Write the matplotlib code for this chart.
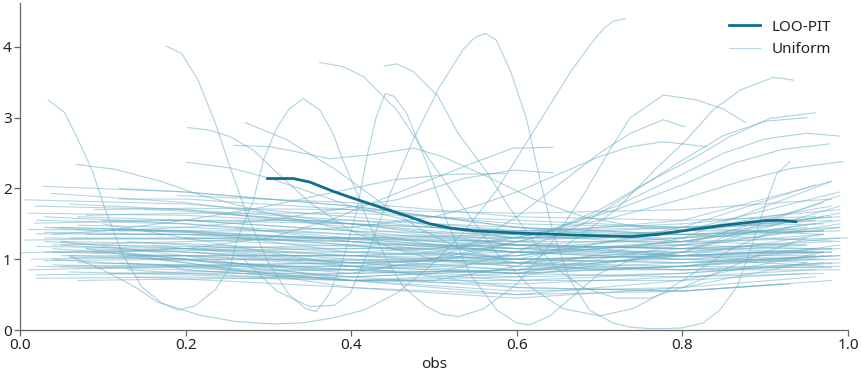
import matplotlib
matplotlib.use("Agg")
import matplotlib.pyplot as plt

plt.rcParams['font.family'] = ['Noto Sans', 'DejaVu Sans']

# ---------------- data ----------------
loo_x = [0.299, 0.33, 0.35, 0.378, 0.40, 0.439, 0.47, 0.495, 0.52, 0.55, 0.601,
         0.65, 0.70, 0.738, 0.77, 0.80, 0.85, 0.899, 0.92, 0.937]
loo_y = [2.14, 2.14, 2.09, 1.96, 1.87, 1.72, 1.60, 1.50, 1.44, 1.40, 1.37,
         1.35, 1.33, 1.32, 1.35, 1.40, 1.48, 1.545, 1.55, 1.53]

# prominent uniform curves (x lists / y lists)
prom_x = [
    [0.034, 0.054, 0.07, 0.087, 0.103, 0.123, 0.147, 0.171, 0.191, 0.211, 0.236, 0.254, 0.262,
     0.282, 0.294, 0.31, 0.325, 0.342, 0.362, 0.378, 0.39, 0.407, 0.423, 0.443, 0.463, 0.491,
     0.51, 0.53, 0.56, 0.60, 0.64, 0.68, 0.71, 0.737, 0.777, 0.817, 0.85, 0.876],
    [0.177, 0.195, 0.215, 0.236, 0.254, 0.275, 0.30, 0.325, 0.345, 0.358, 0.374, 0.39, 0.407,
     0.42, 0.43, 0.441, 0.452, 0.467, 0.491, 0.515, 0.543, 0.576, 0.60, 0.615, 0.64, 0.67, 0.70, 0.74, 0.78],
    [0.06, 0.10, 0.14, 0.165, 0.217, 0.26, 0.306, 0.34, 0.378, 0.415, 0.455, 0.495, 0.535,
     0.576, 0.616, 0.664, 0.69, 0.705, 0.716, 0.731],
    [0.27, 0.31, 0.35, 0.38, 0.399, 0.423, 0.447, 0.475, 0.507, 0.535, 0.549, 0.562, 0.575, 0.592, 0.612,
     0.628, 0.644, 0.664, 0.688, 0.716, 0.737, 0.76, 0.78, 0.80, 0.825, 0.845, 0.866, 0.882,
     0.898, 0.914, 0.93],
    [0.362, 0.39, 0.415, 0.455, 0.495, 0.535, 0.576, 0.616, 0.656, 0.70, 0.74, 0.78, 0.82, 0.86, 0.90, 0.93],
    [0.44, 0.455, 0.475, 0.505, 0.529, 0.55, 0.562, 0.59, 0.62, 0.65, 0.68, 0.72, 0.76, 0.80, 0.85, 0.90, 0.95],
    [0.272, 0.322, 0.382, 0.43, 0.48, 0.53, 0.60, 0.70, 0.80, 0.90, 0.97],
    [0.203, 0.23, 0.254, 0.282, 0.305, 0.35, 0.40, 0.45, 0.50, 0.60, 0.70, 0.80, 0.90, 0.96],
    [0.201, 0.254, 0.30, 0.35, 0.40, 0.50, 0.60, 0.70, 0.80, 0.90, 0.96],
    [0.068, 0.115, 0.17, 0.22, 0.30, 0.40, 0.50, 0.60, 0.70, 0.80, 0.90, 0.97],
    [0.258, 0.302, 0.35, 0.374, 0.42, 0.475, 0.51, 0.564, 0.62, 0.68, 0.75, 0.82, 0.90, 0.95],
    [0.03, 0.10, 0.20, 0.30, 0.374, 0.435, 0.495, 0.556, 0.596, 0.644],
    [0.03, 0.10, 0.20, 0.30, 0.38, 0.455, 0.535, 0.596, 0.644],
    [0.04, 0.10, 0.20, 0.30, 0.38, 0.45, 0.52, 0.586],
    [0.12, 0.20, 0.30, 0.40, 0.50, 0.60, 0.66, 0.72, 0.769, 0.805, 0.837, 0.87, 0.91, 0.934],
    [0.04, 0.10, 0.20, 0.30, 0.40, 0.50, 0.62, 0.70, 0.76, 0.817, 0.857, 0.906, 0.96],
    [0.12, 0.20, 0.30, 0.40, 0.50, 0.60, 0.68, 0.74, 0.80, 0.85, 0.90, 0.95],
    [0.04, 0.10, 0.20, 0.30, 0.40, 0.50, 0.62, 0.72, 0.80, 0.85, 0.90, 0.95, 0.99],
    [0.05, 0.12, 0.20, 0.30, 0.40, 0.50, 0.62, 0.72, 0.80, 0.86, 0.92, 0.978],
    [0.03, 0.10, 0.20, 0.30, 0.40, 0.50, 0.62, 0.72, 0.80, 0.87, 0.93, 0.994],
    [0.13, 0.20, 0.30, 0.40, 0.50, 0.55, 0.60, 0.65, 0.70, 0.737, 0.777, 0.803],
    [0.12, 0.20, 0.30, 0.40, 0.50, 0.55, 0.60, 0.65, 0.70, 0.737, 0.777, 0.829],
]
prom_y = [
    [3.25, 3.07, 2.69, 2.26, 1.70, 1.09, 0.61, 0.38, 0.28, 0.34, 0.57, 0.90, 1.27,
     1.84, 2.40, 2.85, 3.12, 3.27, 3.11, 2.78, 2.40, 1.93, 1.46, 0.99, 0.61, 0.33,
     0.22, 0.19, 0.30, 0.65, 1.20, 1.90, 2.50, 3.00, 3.32, 3.25, 3.12, 2.93],
    [4.01, 3.91, 3.53, 2.92, 2.29, 1.60, 0.95, 0.50, 0.30, 0.26, 0.52, 0.99, 1.70,
     2.50, 3.00, 3.34, 3.30, 3.06, 2.36, 1.55, 0.80, 0.28, 0.10, 0.07, 0.20, 0.50, 0.80, 1.00, 1.10],
    [1.05, 0.85, 0.60, 0.40, 0.21, 0.12, 0.085, 0.10, 0.17, 0.28, 0.52, 0.90, 1.37,
     1.98, 2.73, 3.63, 4.05, 4.26, 4.36, 4.40],
    [1.00, 0.55, 0.33, 0.35, 0.52, 1.18, 1.93, 2.69, 3.44, 3.96, 4.13, 4.19, 4.10, 3.67, 2.97,
     2.12, 1.37, 0.71, 0.28, 0.10, 0.04, 0.02, 0.02, 0.03, 0.10, 0.28, 0.61, 1.13,
     1.70, 2.21, 2.38],
    [3.78, 3.72, 3.58, 3.11, 2.40, 1.74, 1.08, 0.61, 0.30, 0.20, 0.30, 0.55, 0.85, 1.15, 1.35, 1.45],
    [3.73, 3.76, 3.65, 3.30, 2.78, 2.45, 2.26, 1.75, 1.25, 0.85, 0.60, 0.45, 0.45, 0.60, 0.85, 1.10, 1.30],
    [2.93, 2.69, 2.26, 1.85, 1.45, 1.15, 0.95, 0.85, 0.90, 1.00, 1.05],
    [2.86, 2.82, 2.73, 2.54, 2.28, 1.80, 1.40, 1.15, 1.00, 0.90, 0.95, 1.05, 1.10, 1.10],
    [2.37, 2.29, 2.15, 1.95, 1.75, 1.45, 1.30, 1.30, 1.40, 1.50, 1.55],
    [2.34, 2.27, 2.10, 1.90, 1.65, 1.40, 1.20, 1.10, 1.05, 1.00, 0.95, 0.90],
    [2.61, 2.59, 2.48, 2.42, 2.47, 2.57, 2.45, 2.17, 1.85, 1.60, 1.45, 1.40, 1.40, 1.40],
    [1.10, 1.10, 1.15, 1.30, 1.55, 1.84, 2.12, 2.40, 2.57, 2.58],
    [1.45, 1.40, 1.45, 1.55, 1.70, 1.84, 2.14, 2.26, 2.22],
    [1.35, 1.40, 1.55, 1.75, 1.95, 2.12, 2.20, 2.21],
    [1.05, 0.95, 0.80, 0.70, 0.70, 0.90, 1.20, 1.70, 2.29, 2.69, 3.11, 3.39, 3.57, 3.53],
    [1.00, 0.95, 0.90, 0.85, 0.85, 0.95, 1.30, 1.70, 2.10, 2.45, 2.73, 2.99, 3.07],
    [1.10, 1.00, 0.85, 0.75, 0.80, 1.10, 1.50, 1.95, 2.40, 2.75, 2.95, 3.00],
    [1.15, 1.10, 1.00, 0.90, 0.90, 1.00, 1.30, 1.75, 2.20, 2.50, 2.70, 2.78, 2.74],
    [1.20, 1.15, 1.10, 1.05, 1.05, 1.10, 1.35, 1.70, 2.05, 2.35, 2.55, 2.63],
    [1.25, 1.20, 1.15, 1.10, 1.10, 1.15, 1.35, 1.60, 1.85, 2.10, 2.28, 2.38],
    [0.85, 0.80, 0.75, 0.80, 1.00, 1.25, 1.60, 2.05, 2.50, 2.78, 2.97, 2.87],
    [1.40, 1.40, 1.40, 1.45, 1.60, 1.75, 1.95, 2.20, 2.45, 2.59, 2.66, 2.59],
]

# background uniform curves: start x, end x and y at start, 0.2, 0.4, 0.6, 0.8, end
bg_x0 = [0.028, 0.038, 0.006, 0.018, 0.010, 0.018, 0.006, 0.002, 0.010, 0.020,
         0.020, 0.014, 0.050, 0.030, 0.060, 0.040, 0.080, 0.050, 0.070, 0.090,
         0.030, 0.060, 0.120, 0.100, 0.150, 0.130, 0.160, 0.180, 0.110, 0.040,
         0.080, 0.020, 0.050, 0.090, 0.070, 0.010, 0.030, 0.060, 0.200, 0.220,
         0.250, 0.140, 0.170, 0.120, 0.190, 0.040, 0.080, 0.020, 0.110, 0.070,
         0.030, 0.150, 0.100, 0.060, 0.240, 0.260, 0.090, 0.050, 0.130, 0.020,
         0.050, 0.080, 0.100, 0.120, 0.060, 0.160, 0.040, 0.020, 0.210, 0.070]
bg_x1 = [0.95, 0.97, 0.99, 0.96, 0.98, 0.99, 1.00, 0.98, 0.97, 0.99,
         0.96, 0.98, 0.95, 0.99, 0.97, 0.99, 0.96, 0.97, 0.98, 0.99,
         0.94, 0.98, 0.97, 0.93, 0.95, 0.99, 0.97, 0.96, 0.99, 0.93,
         0.97, 0.98, 0.99, 0.95, 0.99, 0.97, 0.98, 0.99, 0.95, 0.98,
         0.95, 0.92, 0.99, 0.97, 0.96, 0.99, 0.98, 0.96, 0.99, 0.97,
         0.99, 0.98, 0.97, 0.99, 0.97, 0.99, 0.98, 0.99, 0.96, 0.98,
         0.97, 0.95, 0.98, 0.99, 0.98, 0.96, 0.99, 0.97, 0.99, 0.98]
bg_y = [
    [2.03, 1.95, 1.75, 1.45, 1.25, 1.20], [1.93, 1.80, 1.50, 1.20, 1.05, 1.00],
    [1.84, 1.78, 1.60, 1.40, 1.35, 1.40], [1.75, 1.70, 1.55, 1.35, 1.20, 1.15],
    [1.65, 1.62, 1.50, 1.40, 1.45, 1.55], [1.51, 1.55, 1.55, 1.45, 1.35, 1.25],
    [1.27, 1.30, 1.30, 1.25, 1.25, 1.30], [1.09, 1.15, 1.20, 1.20, 1.15, 1.10],
    [0.85, 0.90, 0.95, 1.00, 1.05, 1.10], [0.78, 0.80, 0.80, 0.85, 0.95, 1.05],
    [0.73, 0.75, 0.70, 0.65, 0.75, 0.85], [1.00, 1.05, 1.05, 1.00, 1.05, 1.15],
    [1.45, 1.40, 1.25, 1.10, 1.10, 1.20], [1.38, 1.35, 1.20, 0.95, 0.85, 0.85],
    [1.30, 1.30, 1.25, 1.15, 1.20, 1.35], [1.20, 1.25, 1.30, 1.35, 1.45, 1.60],
    [1.15, 1.10, 0.95, 0.85, 0.90, 1.00], [1.05, 1.05, 0.95, 0.80, 0.75, 0.80],
    [0.95, 0.92, 0.85, 0.80, 0.90, 1.05], [0.88, 0.90, 0.90, 0.95, 1.10, 1.30],
    [1.60, 1.50, 1.30, 1.10, 1.00, 1.00], [1.78, 1.70, 1.45, 1.20, 1.15, 1.25],
    [1.85, 1.85, 1.70, 1.50, 1.45, 1.50], [1.55, 1.55, 1.40, 1.20, 1.15, 1.20],
    [1.70, 1.68, 1.50, 1.25, 1.05, 0.95], [1.25, 1.20, 1.05, 0.90, 0.85, 0.90],
    [1.00, 0.98, 0.85, 0.75, 0.80, 0.95], [0.90, 0.85, 0.70, 0.55, 0.60, 0.75],
    [1.42, 1.38, 1.20, 1.00, 0.95, 1.05], [0.92, 0.88, 0.75, 0.60, 0.55, 0.65],
    [1.62, 1.65, 1.65, 1.55, 1.45, 1.35], [1.18, 1.15, 1.00, 0.85, 0.85, 0.95],
    [1.25, 1.22, 1.10, 1.00, 1.05, 1.15], [1.10, 1.12, 1.15, 1.20, 1.30, 1.45],
    [1.48, 1.45, 1.35, 1.30, 1.35, 1.45], [1.42, 1.40, 1.28, 1.15, 1.10, 1.10],
    [0.98, 1.00, 1.00, 0.95, 0.90, 0.88], [0.82, 0.78, 0.70, 0.70, 0.80, 0.95],
    [1.30, 1.30, 1.25, 1.10, 1.05, 1.10], [1.15, 1.15, 1.05, 0.95, 1.00, 1.10],
    [0.95, 0.92, 0.85, 0.70, 0.70, 0.80], [0.75, 0.72, 0.60, 0.50, 0.55, 0.65],
    [1.55, 1.55, 1.50, 1.40, 1.50, 1.70], [2.00, 1.95, 1.75, 1.45, 1.35, 1.40],
    [1.90, 1.90, 1.80, 1.60, 1.55, 1.60], [1.10, 1.05, 0.90, 0.80, 0.90, 1.20],
    [1.35, 1.35, 1.30, 1.20, 1.15, 1.15], [1.55, 1.50, 1.35, 1.15, 1.05, 1.05],
    [0.80, 0.82, 0.85, 0.95, 1.15, 1.50], [0.70, 0.72, 0.75, 0.85, 1.05, 1.35],
    [1.30, 1.28, 1.18, 1.10, 1.20, 1.45], [1.40, 1.38, 1.28, 1.25, 1.40, 1.75],
    [1.20, 1.18, 1.15, 1.15, 1.30, 1.60], [1.02, 1.00, 0.98, 1.05, 1.25, 1.65],
    [1.65, 1.62, 1.50, 1.30, 1.30, 1.40], [1.45, 1.40, 1.25, 1.00, 0.95, 1.00],
    [1.70, 1.72, 1.70, 1.65, 1.70, 1.85], [0.90, 0.92, 0.95, 1.05, 1.25, 1.55],
    [1.05, 1.05, 1.05, 1.10, 1.25, 1.50], [1.36, 1.35, 1.30, 1.30, 1.40, 1.60],
    [1.25, 1.05, 0.70, 0.50, 0.70, 1.10], [1.15, 0.95, 0.60, 0.45, 0.60, 0.95],
    [1.50, 1.30, 0.90, 0.60, 0.55, 0.70], [0.95, 0.90, 0.70, 0.75, 1.10, 1.90],
    [1.05, 1.00, 0.80, 0.85, 1.30, 2.10], [1.20, 1.15, 0.95, 1.00, 1.45, 2.05],
    [1.45, 1.40, 1.10, 1.05, 1.40, 1.95], [0.90, 0.85, 0.70, 0.80, 1.20, 1.80],
    [1.10, 1.10, 0.90, 0.80, 1.10, 1.75], [1.60, 1.55, 1.40, 1.35, 1.55, 2.10],
]
bg_nodes = [0.2, 0.4, 0.6, 0.8]

xticks = [0.0, 0.2, 0.4, 0.6, 0.8, 1.0]
yticks = [0, 1, 2, 3, 4]

# ---------------- plotting ----------------
loo_color = "#0f6e8c"
unif_color = "#6aaec6"

fig = plt.figure(figsize=(8.62, 3.75), dpi=100)
ax = fig.add_axes([0.0232, 0.12, 0.9606, 0.872])

first = True
for x0, x1, ys in zip(bg_x0, bg_x1, bg_y):
    xs = [x0] + [n for n in bg_nodes if n > x0 + 0.01] + [x1]
    yv = [ys[0]] + [ys[i + 1] for i, n in enumerate(bg_nodes) if n > x0 + 0.01] + [ys[-1]]
    ax.plot(xs, yv, color=unif_color, alpha=0.5, lw=0.8, zorder=1,
            label="Uniform" if first else None)
    first = False
for xs, ys in zip(prom_x, prom_y):
    ax.plot(xs, ys, color=unif_color, alpha=0.55, lw=0.8, zorder=1)

ax.plot(loo_x, loo_y, color=loo_color, lw=2.0, zorder=3, label="LOO-PIT")

ax.set_xlim(0, 1)
ax.set_ylim(0, 4.62)
ax.set_xticks(xticks)
ax.set_xticklabels([f"{t:.1f}" for t in xticks])
ax.set_yticks(yticks)
ax.set_xlabel("obs", fontsize=11, color="#222222", labelpad=3)

for s in ["top", "right"]:
    ax.spines[s].set_visible(False)
for s in ["left", "bottom"]:
    ax.spines[s].set_color("#666666")
    ax.spines[s].set_linewidth(0.9)
ax.tick_params(axis="both", labelsize=11, colors="#222222", length=4, width=0.9,
               pad=2)
ax.tick_params(axis="both", color="#666666")

handles, labels = ax.get_legend_handles_labels()
order = [labels.index("LOO-PIT"), labels.index("Uniform")]
leg = ax.legend([handles[i] for i in order], [labels[i] for i in order],
                loc="upper right", frameon=False, fontsize=11,
                borderaxespad=0.7, handlelength=2.0, handletextpad=0.8)
for t in leg.get_texts():
    t.set_color("#222222")

fig.savefig("out.png", dpi=100)
